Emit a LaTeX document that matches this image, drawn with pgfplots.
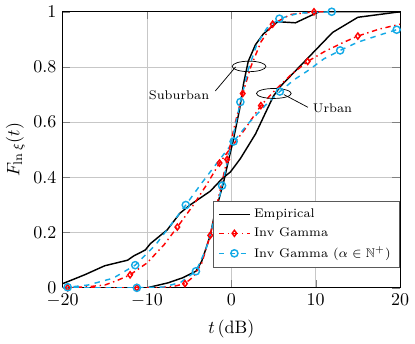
\documentclass[border=0pt]{standalone}
\usepackage{amssymb}
\usepackage{pgfplots}
\pgfplotsset{compat=1.18}
\definecolor{invcyan}{RGB}{20,170,230}

\begin{document}
\begin{tikzpicture}
\begin{axis}[
  scale only axis,
  width=6.6cm, height=5.4cm,
  xmin=-20, xmax=20, ymin=0, ymax=1,
  xtick={-20,-10,0,10,20},
  ytick={0,0.2,0.4,0.6,0.8,1},
  grid=major,
  major grid style={black!22},
  xlabel={$t\,(\mathrm{dB})$},
  ylabel={$F_{\ln\xi}(t)$},
  ylabel style={yshift=-2pt},
  legend style={at={(1,0.072)}, anchor=south east, font=\scriptsize,
    draw=black!65, cells={anchor=west}},
  every axis plot/.append style={line width=0.8pt},
]
% urban
\addplot[black] coordinates {
 (-20,0.015) (-17.4,0.047) (-15,0.08) (-12.3,0.10) (-11.6,0.115) (-10.2,0.137)
 (-9.6,0.16) (-7.6,0.21) (-6.1,0.27) (-4.9,0.30) (-2.5,0.35) (-1.1,0.395)
 (-0.1,0.42) (1.07,0.468) (2.86,0.557) (4.25,0.647) (5.0,0.695) (5.83,0.73)
 (9.0,0.83) (12,0.925) (15,0.98) (20,1.0)
};
\addlegendentry{Empirical}
\addplot[red, dashdotted, mark=diamond, mark size=1.7pt,
  mark options={solid}, mark indices={2,6,9,12,15,18,21}] coordinates {
 (-20,0) (-19.4,0) (-17,0.004) (-15,0.01) (-13.5,0.027) (-12,0.047)
 (-10,0.09) (-8,0.155) (-6.4,0.22) (-4.5,0.30) (-3,0.37) (-1.4,0.452)
 (0,0.51) (1.5,0.57) (3.5,0.66) (5,0.71) (7,0.77) (9.05,0.82)
 (11,0.855) (13,0.885) (15,0.912) (17.5,0.937) (20,0.955)
};
\addlegendentry{Inv Gamma}
\addplot[invcyan, dashed, mark=o, mark size=2pt,
  mark options={solid}, mark indices={2,5,8,11,14,18,21}] coordinates {
 (-20,0) (-19.4,0.002) (-17,0.01) (-14,0.035) (-11.4,0.082) (-9,0.155)
 (-7,0.235) (-5.4,0.30) (-3.5,0.38) (-1.5,0.46) (0.27,0.53) (2,0.595)
 (4,0.66) (5.75,0.711) (7.5,0.755) (9,0.785) (11,0.83) (12.9,0.86)
 (15,0.89) (17.5,0.915) (19.6,0.935) (20,0.938)
};
\addlegendentry{Inv Gamma ($\alpha\in\mathbb{N}^{+}$)}
% suburban
\addplot[black, forget plot] coordinates {
 (-10,0) (-7.5,0.018) (-5.8,0.036) (-4.2,0.06) (-3.5,0.097) (-2.5,0.19)
 (-2.1,0.25) (-0.9,0.385) (-0.2,0.48) (0.2,0.53) (1.0,0.65) (1.45,0.74)
 (2.0,0.82) (2.85,0.88) (3.8,0.92) (5.5,0.964) (7.6,0.96) (10.4,1.0) (20,1.0)
};
\addplot[red, dashdotted, mark=diamond, mark size=1.7pt, forget plot,
  mark options={solid}, mark indices={2,5,8,10,12,15,17}] coordinates {
 (-20,0) (-11.2,0) (-9,0) (-7,0.004) (-5.5,0.015) (-4.5,0.04) (-3.5,0.09)
 (-2.5,0.19) (-1.5,0.33) (-0.5,0.465) (0.4,0.59) (1.35,0.704) (2.3,0.80)
 (3.5,0.89) (4.9,0.955) (7,0.99) (9.8,1.0) (11,1.0)
};
\addplot[invcyan, dashed, mark=o, mark size=2pt, forget plot,
  mark options={solid}, mark indices={2,5,8,10,14,16}] coordinates {
 (-20,0) (-11.2,0) (-8,0.003) (-6,0.02) (-4.2,0.06) (-3,0.14) (-2,0.25)
 (-1.1,0.37) (0,0.52) (1.07,0.673) (2,0.79) (3,0.88) (4.2,0.94)
 (5.7,0.975) (8,0.995) (11.9,1.0)
};
% annotations
\draw[thin] (axis cs:2.1,0.802) ellipse [x radius=2.0, y radius=0.019];
\draw[thin] (axis cs:-1.9,0.713) -- (axis cs:0.5,0.80);
\node[font=\scriptsize] at (axis cs:-6.2,0.698) {Suburban};
\draw[thin] (axis cs:5.04,0.704) ellipse [x radius=2.06, y radius=0.018];
\draw[thin] (axis cs:6.23,0.70) -- (axis cs:9.08,0.654);
\node[font=\scriptsize] at (axis cs:12,0.65) {Urban};
\end{axis}
\end{tikzpicture}
\end{document}
